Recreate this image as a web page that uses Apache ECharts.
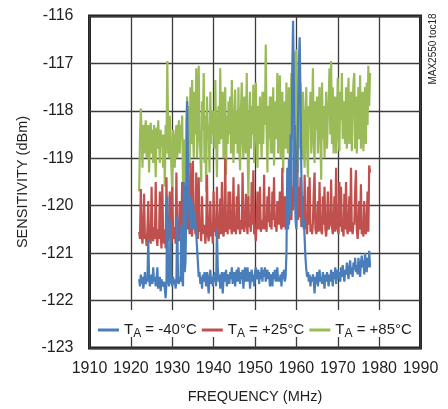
<!DOCTYPE html>
<html>
<head>
<meta charset="utf-8">
<script src="https://cdn.jsdelivr.net/npm/echarts@6/dist/echarts.min.js"></script>
<style>
html,body{margin:0;padding:0;background:#fff;}
#c{width:448px;height:409px;}
</style>
</head>
<body>
<div id="c"></div>
<script>
// Sampling grid of the sweep (MHz)
const FREQ_START = 1922.0;
const FREQ_STEP = 0.2;

const xTicks = [1910, 1920, 1930, 1940, 1950, 1960, 1970, 1980, 1990];
const yTicks = [-123, -122, -121, -120, -119, -118, -117, -116];

const seriesNames = ['TA = -40°C', 'TA = +25°C', 'TA = +85°C'];

// TA = -40°C  (10 samples per row, each row = 2 MHz starting at 1922)
const sensM40 = [
 -121.55,-121.7,-121.45,-121.65,-121.5,-121.75,-121.6,-121.4,-121.65,-121.55,
 -121.6,-120.7,-121.5,-121.7,-121.55,-121.45,-121.65,-121.3,-121.6,-121.5,
 -121.7,-121.55,-121.3,-121.75,-121.6,-121.5,-121.8,-121.55,-121.65,-121.7,
 -121.6,-121.75,-121.95,-121.6,-119.8,-121.5,-121.7,-121.55,-120.3,-121.6,
 -121.7,-121.5,-121.65,-121.55,-121.75,-121.6,-120.2,-121.55,-121.65,-121.5,
 -121.6,-120.4,-121.55,-121.7,-119.5,-121.4,-121.2,-120.1,-117.8,-119.2,
 -119.6,-120.3,-119.8,-120.5,-119.9,-120.2,-120.5,-120.1,-120.4,-120.6,
 -120.9,-121.2,-121.5,-121.4,-121.65,-121.5,-121.75,-121.45,-121.6,-121.4,
 -121.55,-121.7,-121.4,-121.6,-121.85,-121.5,-121.35,-121.65,-121.5,-121.7,
 -121.45,-121.6,-121.4,-121.7,-120.5,-121.3,-121.6,-121.45,-121.75,-121.5,
 -121.4,-121.85,-121.55,-121.4,-121.6,-121.35,-121.7,-121.5,-121.45,-121.65,
 -121.4,-121.55,-121.3,-121.65,-121.5,-121.4,-121.7,-121.45,-121.35,-121.6,
 -121.3,-121.5,-121.65,-121.4,-121.55,-121.35,-121.75,-121.45,-121.3,-121.6,
 -121.45,-121.3,-121.6,-121.4,-121.75,-121.5,-121.35,-121.6,-121.45,-121.7,
 -121.4,-121.3,-121.55,-121.45,-121.35,-121.65,-121.4,-121.55,-121.3,-121.6,
 -121.35,-121.5,-121.3,-121.6,-121.45,-121.35,-121.55,-121.4,-121.7,-121.45,
 -121.5,-121.7,-121.4,-121.55,-121.35,-121.6,-121.45,-121.3,-121.6,-121.5,
 -121.6,-121.45,-121.7,-121.4,-121.55,-121.35,-121.6,-121.5,-121.0,-119.2,
 -120.5,-119.0,-120.2,-118.5,-119.6,-117.2,-116.1,-117.5,-119.5,-120.3,
 -120.5,-119.4,-118.2,-117.0,-116.45,-117.8,-119.3,-120.1,-120.45,-120.3,
 -120.7,-121.1,-121.35,-121.5,-121.4,-121.6,-121.45,-121.7,-121.5,-121.6,
 -121.45,-121.6,-121.85,-121.5,-121.65,-121.4,-121.7,-121.5,-121.35,-121.6,
 -121.5,-121.65,-121.4,-121.55,-121.75,-121.45,-121.6,-121.4,-121.55,-121.7,
 -121.45,-121.6,-121.35,-121.5,-121.7,-121.4,-121.55,-121.3,-121.65,-121.45,
 -121.35,-121.55,-121.4,-121.6,-121.3,-121.5,-121.25,-121.45,-121.6,-121.35,
 -121.45,-121.2,-121.4,-121.55,-121.3,-121.15,-121.45,-121.3,-121.5,-121.2,
 -121.35,-121.1,-121.4,-121.25,-121.45,-121.1,-121.3,-121.5,-121.2,-121.05,
 -121.3,-121.15,-121.45,-121.0,-121.25,-121.4,-121.1,-121.3,-120.95,-121.3
];

// TA = +25°C
const sensP25 = [
 -120.55,-120.7,-119.65,-120.6,-120.8,-120.5,-119.75,-120.7,-120.6,-120.85,
 -120.5,-119.9,-120.75,-120.6,-120.8,-119.6,-120.55,-120.75,-120.45,-120.7,
 -119.5,-120.65,-120.85,-120.5,-120.7,-119.7,-120.6,-120.9,-119.55,-120.65,
 -120.8,-120.5,-120.9,-119.4,-120.6,-120.75,-120.5,-119.7,-120.65,-120.8,
 -119.6,-120.55,-120.7,-120.45,-120.8,-119.3,-120.6,-120.5,-120.75,-119.9,
 -120.6,-120.4,-119.5,-120.7,-120.5,-120.8,-119.6,-120.45,-118.9,-120.5,
 -120.3,-120.6,-119.1,-120.45,-120.65,-119.05,-120.5,-120.35,-120.6,-119.3,
 -120.5,-120.7,-119.4,-120.55,-120.4,-120.75,-119.8,-120.5,-120.6,-120.4,
 -120.8,-120.5,-119.35,-120.6,-120.75,-120.45,-119.9,-120.65,-120.5,-120.8,
 -119.7,-120.55,-120.4,-120.65,-119.6,-120.5,-120.7,-120.45,-119.85,-120.6,
 -119.5,-120.5,-120.65,-120.4,-119.0,-120.55,-120.35,-120.6,-119.7,-120.5,
 -119.7,-120.45,-120.6,-120.35,-119.4,-120.55,-120.4,-120.6,-119.8,-120.5,
 -119.55,-120.4,-120.6,-120.3,-120.5,-119.3,-120.45,-120.55,-120.35,-119.75,
 -120.4,-120.6,-119.8,-120.45,-120.3,-120.55,-119.5,-120.4,-119.25,-120.6,
 -120.5,-120.75,-120.35,-119.7,-120.5,-120.4,-119.6,-120.55,-120.3,-120.5,
 -120.4,-119.35,-120.5,-120.3,-120.55,-119.8,-120.35,-119.6,-120.45,-120.3,
 -120.5,-119.7,-120.3,-119.4,-120.45,-120.35,-120.55,-119.9,-120.4,-120.3,
 -119.7,-120.4,-120.5,-119.2,-120.45,-120.3,-119.8,-120.5,-120.35,-119.6,
 -119.5,-120.4,-120.2,-118.9,-120.3,-119.6,-120.1,-119.3,-118.3,-119.9,
 -120.0,-119.1,-120.3,-119.6,-120.25,-119.4,-120.45,-120.2,-119.8,-120.5,
 -119.35,-120.5,-120.35,-120.6,-119.6,-120.4,-119.4,-120.55,-120.4,-120.6,
 -120.35,-119.7,-119.3,-120.5,-120.6,-120.4,-119.9,-120.55,-119.5,-120.45,
 -120.45,-120.6,-119.8,-120.4,-119.6,-120.5,-120.65,-120.4,-119.7,-120.5,
 -120.5,-120.35,-119.45,-120.45,-120.6,-120.4,-119.8,-120.55,-119.2,-120.4,
 -120.4,-120.6,-119.5,-120.45,-119.6,-120.55,-120.4,-120.65,-119.75,-120.5,
 -119.5,-120.45,-120.6,-120.4,-119.8,-120.55,-119.2,-120.5,-120.6,-120.35,
 -120.4,-119.7,-119.25,-120.5,-120.7,-120.45,-119.9,-120.5,-119.55,-120.6,
 -120.5,-120.65,-119.9,-120.45,-120.6,-120.4,-119.7,-120.55,-119.15,-119.3
];

// TA = +85°C
const sensP85 = [
 -119.7,-118.6,-117.95,-118.5,-119.2,-118.3,-118.9,-118.45,-118.2,-119.0,
 -118.5,-118.3,-119.3,-118.6,-118.25,-118.9,-118.4,-119.1,-118.3,-118.7,
 -119.4,-118.35,-118.8,-118.2,-118.6,-119.1,-118.4,-118.75,-118.5,-119.2,
 -118.5,-119.6,-118.3,-118.9,-116.95,-118.4,-119.0,-118.1,-118.6,-119.2,
 -119.7,-118.4,-118.8,-119.2,-118.5,-118.3,-119.0,-118.6,-118.2,-118.9,
 -118.3,-118.6,-118.1,-119.5,-118.6,-118.9,-119.8,-118.2,-117.7,-119.1,
 -117.9,-119.2,-117.5,-118.7,-117.35,-118.4,-119.0,-117.6,-118.5,-117.1,
 -119.0,-118.2,-117.05,-118.6,-118.9,-119.5,-117.8,-118.4,-117.2,-119.1,
 -118.1,-119.7,-117.7,-118.6,-118.3,-119.3,-117.6,-118.7,-118.0,-118.5,
 -118.0,-118.8,-117.35,-118.5,-119.4,-118.2,-117.9,-118.7,-117.1,-118.6,
 -118.4,-117.6,-119.0,-118.3,-117.5,-119.35,-118.1,-118.7,-117.8,-118.5,
 -117.7,-118.9,-117.35,-118.4,-119.1,-118.2,-117.55,-118.7,-118.0,-118.9,
 -117.5,-118.8,-119.25,-118.0,-117.4,-118.6,-119.0,-117.7,-118.4,-118.9,
 -117.2,-118.6,-119.9,-118.3,-117.6,-118.8,-117.9,-118.5,-117.45,-119.1,
 -119.1,-117.4,-118.5,-119.2,-117.9,-118.7,-117.7,-118.4,-119.0,-117.6,
 -118.7,-117.6,-118.3,-116.6,-118.4,-119.3,-117.9,-118.6,-117.7,-118.9,
 -117.7,-118.9,-117.5,-119.15,-118.2,-117.8,-118.6,-117.2,-118.9,-118.3,
 -117.25,-119.0,-118.0,-117.6,-119.3,-118.4,-117.8,-118.8,-117.4,-118.6,
 -118.9,-117.5,-119.1,-118.0,-117.2,-118.6,-116.9,-117.6,-116.75,-118.4,
 -116.7,-118.6,-119.3,-117.9,-118.8,-117.4,-118.5,-119.0,-117.6,-118.7,
 -119.2,-118.1,-117.5,-118.8,-119.4,-117.9,-118.3,-117.6,-118.9,-118.2,
 -117.1,-118.7,-119.1,-117.8,-118.4,-117.7,-118.9,-118.2,-117.5,-118.6,
 -119.45,-117.4,-118.6,-117.9,-119.0,-118.3,-117.6,-118.8,-118.1,-117.8,
 -117.1,-118.5,-116.95,-118.7,-117.5,-118.9,-118.2,-117.7,-118.9,-118.3,
 -117.3,-118.5,-118.85,-117.6,-118.2,-117.2,-118.6,-118.0,-117.8,-118.7,
 -117.5,-118.8,-117.9,-117.3,-118.7,-118.3,-117.6,-118.85,-118.0,-117.4,
 -117.2,-118.8,-117.7,-118.9,-118.2,-117.5,-118.6,-117.25,-118.8,-118.1,
 -117.6,-118.85,-118.0,-117.5,-118.7,-117.4,-118.3,-117.05,-117.9,-117.2
];

function pairs(vals) {
  return vals.map((v, i) => [+(FREQ_START + i * FREQ_STEP).toFixed(2), v]);
}

const FONT = "'Liberation Sans', Arial, sans-serif";
const TXT = '#231f20';

const chart = echarts.init(document.getElementById('c'), null, {renderer: 'canvas'});

chart.setOption({
  animation: false,
  backgroundColor: '#ffffff',
  textStyle: {fontFamily: FONT, color: TXT},
  grid: {
    left: 89.5, right: 27.5, top: 16, bottom: 60.5,
    show: true, borderColor: TXT, borderWidth: 3, backgroundColor: 'transparent'
  },
  xAxis: {
    type: 'value',
    min: xTicks[0], max: xTicks[xTicks.length - 1], interval: 10,
    name: 'FREQUENCY (MHz)', nameLocation: 'middle', nameGap: 41,
    nameTextStyle: {fontFamily: FONT, fontSize: 14.5, color: TXT},
    axisLine: {show: false}, axisTick: {show: false},
    axisLabel: {fontFamily: FONT, fontSize: 16, color: TXT, margin: 13, formatter: v => String(v)},
    splitLine: {show: true, lineStyle: {color: '#3c3c3c', width: 1.3}}
  },
  yAxis: {
    type: 'value',
    min: yTicks[0], max: yTicks[yTicks.length - 1], interval: 1,
    name: 'SENSITIVITY (dBm)', nameLocation: 'middle', nameGap: 53,
    nameTextStyle: {fontFamily: FONT, fontSize: 14.5, color: TXT},
    axisLine: {show: false}, axisTick: {show: false},
    axisLabel: {fontFamily: FONT, fontSize: 16, color: TXT, margin: 16, formatter: v => String(v)},
    splitLine: {show: true, lineStyle: {color: '#3c3c3c', width: 1.3}}
  },
  legend: {
    data: seriesNames,
    left: 93, top: 315, width: 330,
    itemWidth: 21, itemHeight: 3, itemGap: 5,
    icon: 'rect',
    formatter: name => name.replace('TA', 'T{sub|A}'),
    textStyle: {
      fontFamily: FONT, fontSize: 15, color: TXT, lineHeight: 20,
      rich: {
        sub: {fontFamily: FONT, fontSize: 12, color: TXT, verticalAlign: 'bottom', lineHeight: 20, padding: [8, 0, 0, 0]}
      }
    },
    z: 5
  },
  graphic: [
    {type: 'rect', z: 4, silent: true,
     shape: {x: 91, y: 310, width: 327, height: 27},
     style: {fill: '#ffffff'}},
    {type: 'text', z: 5, x: 433, y: 49, rotation: Math.PI / 2,
     style: {text: 'MAX2550 toc18', fontFamily: FONT, fontSize: 10, fill: TXT,
             textAlign: 'center', textVerticalAlign: 'middle'}}
  ],
  series: [
    {name: seriesNames[2], type: 'line', data: pairs(sensP85), showSymbol: false,
     lineStyle: {color: '#9bbb59', width: 2.2}, itemStyle: {color: '#9bbb59'}},
    {name: seriesNames[1], type: 'line', data: pairs(sensP25), showSymbol: false,
     lineStyle: {color: '#c0504d', width: 2.2}, itemStyle: {color: '#c0504d'}},
    {name: seriesNames[0], type: 'line', data: pairs(sensM40), showSymbol: false,
     lineStyle: {color: '#4a7ebb', width: 2.2}, itemStyle: {color: '#4a7ebb'}}
  ]
});
</script>
</body>
</html>
